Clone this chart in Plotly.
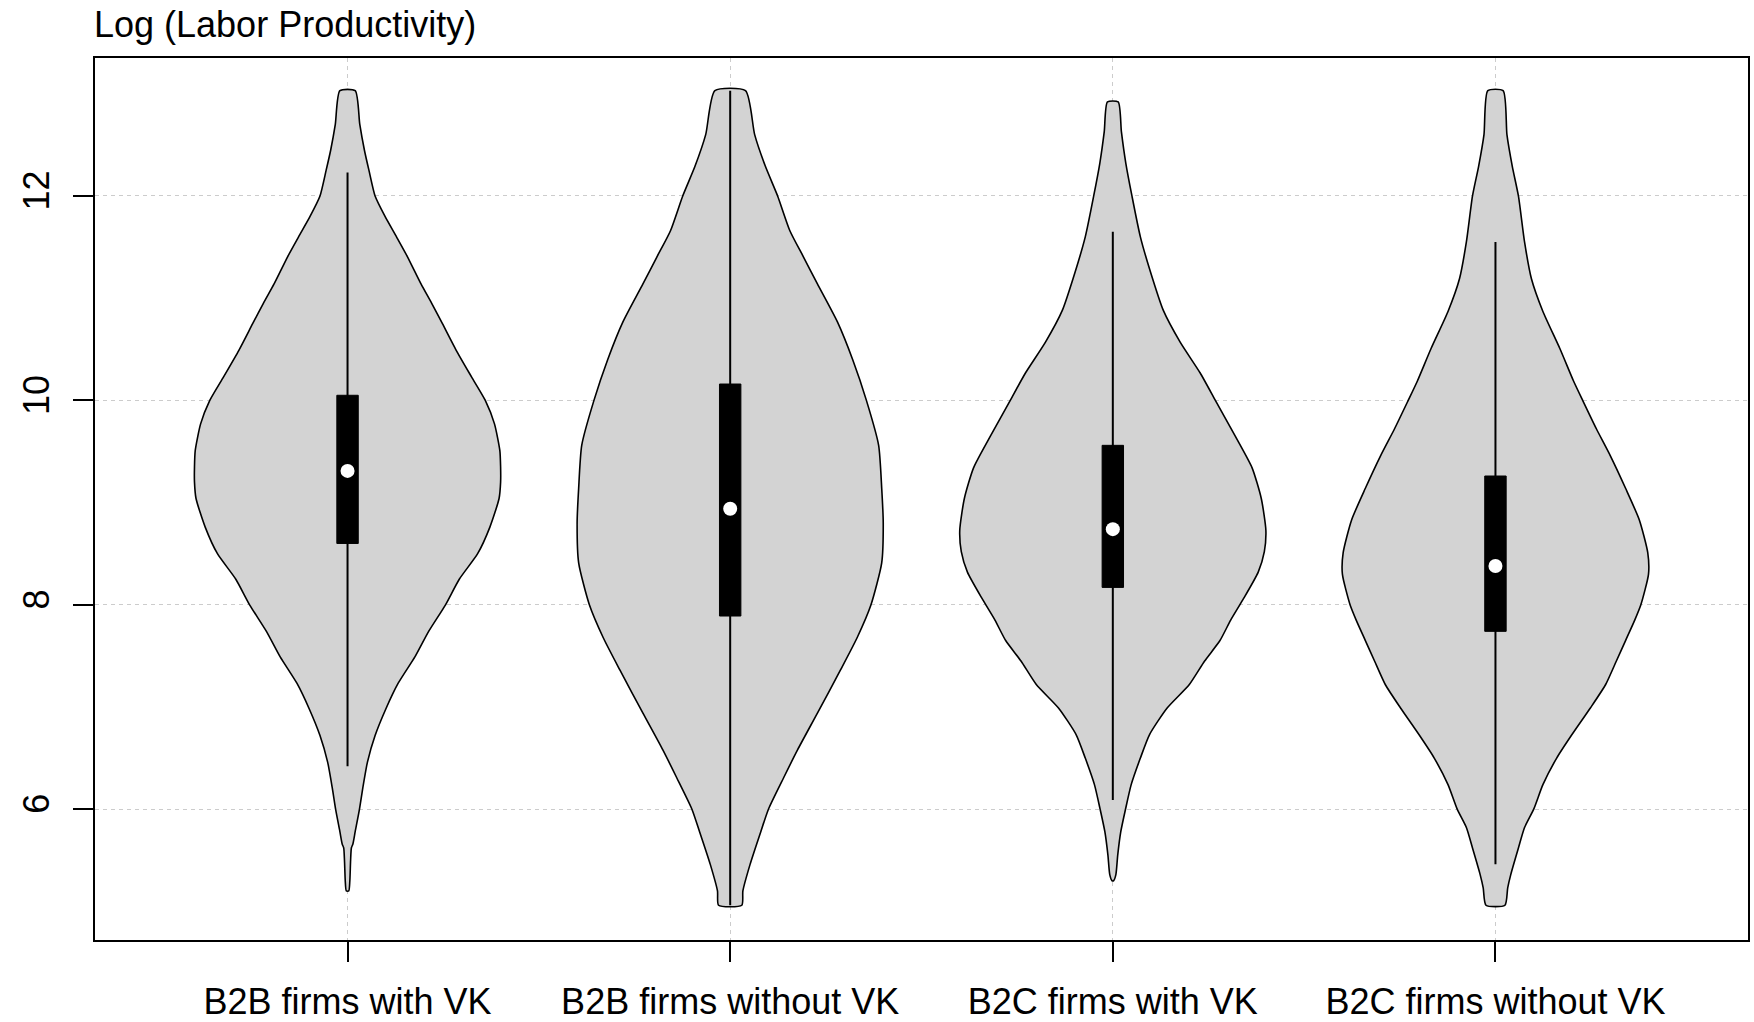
import plotly.graph_objects as go

# ---------------- data ----------------
categories = ["B2B firms with VK", "B2B firms without VK", "B2C firms with VK", "B2C firms without VK"]
positions = [1, 2, 3, 4]

# density outlines: y level and relative half-width (0..1)
dens_y_b2b_vk = [5.20, 5.30, 5.50, 5.62, 5.66, 5.78, 6.00, 6.21, 6.46, 6.72, 6.98, 7.23, 7.49, 7.74, 8.00,
                 8.25, 8.50, 8.76, 9.04, 9.20, 9.35, 9.51, 9.77, 10.00, 10.23, 10.49, 10.75, 10.95, 11.14,
                 11.41, 11.60, 11.80, 12.00, 12.25, 12.45, 12.70, 13.03]
dens_w_b2b_vk = [0.008, 0.015, 0.020, 0.025, 0.035, 0.050, 0.078, 0.10, 0.13, 0.18, 0.25, 0.33, 0.44, 0.53, 0.64,
                 0.73, 0.85, 0.93, 0.99, 1.00, 1.00, 0.995, 0.96, 0.90, 0.81, 0.71, 0.62, 0.55, 0.48,
                 0.39, 0.32, 0.245, 0.18, 0.14, 0.11, 0.08, 0.05]

dens_y_b2b_novk = [5.06, 5.20, 5.46, 5.78, 6.00, 6.31, 6.58, 6.94, 7.36, 7.68, 8.00, 8.41, 8.80, 9.14,
                   9.56, 10.00, 10.40, 10.77, 11.14, 11.40, 11.66, 12.00, 12.29, 12.60, 13.03]
dens_w_b2b_novk = [0.076, 0.083, 0.13, 0.20, 0.25, 0.35, 0.44, 0.57, 0.72, 0.83, 0.92, 0.99, 1.00, 0.99,
                   0.97, 0.89, 0.80, 0.70, 0.57, 0.48, 0.39, 0.31, 0.23, 0.16, 0.10]

dens_y_b2c_vk = [5.30, 5.36, 5.55, 5.78, 6.00, 6.24, 6.50, 6.73, 6.99, 7.22, 7.45, 7.65, 7.85, 8.05, 8.32,
                 8.52, 8.73, 9.04, 9.34, 9.65, 10.00, 10.27, 10.57, 10.88, 11.19, 11.60, 12.00, 12.32,
                 12.63, 12.92]
dens_w_b2c_vk = [0.005, 0.020, 0.032, 0.052, 0.083, 0.12, 0.18, 0.24, 0.355, 0.50, 0.60, 0.70, 0.77, 0.85, 0.95,
                 0.99, 1.00, 0.97, 0.91, 0.80, 0.67, 0.57, 0.44, 0.33, 0.26, 0.18, 0.125, 0.085,
                 0.056, 0.035]

dens_y_b2c_novk = [5.06, 5.23, 5.36, 5.62, 5.82, 6.00, 6.24, 6.50, 6.73, 6.99, 7.22, 7.45, 7.65, 7.85,
                   8.00, 8.30, 8.51, 8.83, 9.14, 9.46, 9.72, 10.00, 10.19, 10.51, 10.87, 11.19, 11.55,
                   12.00, 12.29, 12.60, 13.03]
dens_w_b2c_novk = [0.062, 0.080, 0.10, 0.15, 0.19, 0.25, 0.31, 0.40, 0.50, 0.62, 0.72, 0.79, 0.85, 0.91,
                   0.95, 1.00, 0.995, 0.94, 0.85, 0.75, 0.66, 0.57, 0.51, 0.42, 0.31, 0.235, 0.19,
                   0.15, 0.11, 0.075, 0.05]

# box-plot summary per group
q1 = [8.60, 7.89, 8.17, 7.74]
q3 = [10.05, 10.16, 9.56, 9.26]
medians = [9.31, 8.94, 8.74, 8.38]
whisker_low = [6.42, 5.06, 6.09, 5.46]
whisker_high = [12.23, 13.03, 11.65, 11.55]

y_ticks = [6, 8, 10, 12]
title_text = "Log (Labor Productivity)"

# ---------------- style ----------------
MAX_HALF = 0.4
BOX_HALF = 0.028
FILL = "#d3d3d3"
FONT = "Liberation Sans, Arial, sans-serif"
FS = 36

dens_y = [dens_y_b2b_vk, dens_y_b2b_novk, dens_y_b2c_vk, dens_y_b2c_novk]
dens_w = [dens_w_b2b_vk, dens_w_b2b_novk, dens_w_b2c_vk, dens_w_b2c_novk]

fig = go.Figure()

for i, c in enumerate(positions):
    ys = dens_y[i]
    ws = dens_w[i]
    xr = [c + w * MAX_HALF for w in ws]
    xl = [c - w * MAX_HALF for w in ws]
    px = xr + xl[::-1] + [xr[0]]
    py = ys + ys[::-1] + [ys[0]]
    fig.add_trace(go.Scatter(x=px, y=py, mode="lines", fill="toself", fillcolor=FILL,
                             line=dict(color="black", width=1.6, shape="spline", smoothing=0.6),
                             hoverinfo="skip", showlegend=False))

for i, c in enumerate(positions):
    fig.add_trace(go.Scatter(x=[c, c], y=[whisker_low[i], whisker_high[i]], mode="lines",
                             line=dict(color="black", width=2), hoverinfo="skip", showlegend=False))
    fig.add_trace(go.Scatter(x=[c - BOX_HALF, c + BOX_HALF, c + BOX_HALF, c - BOX_HALF, c - BOX_HALF],
                             y=[q1[i], q1[i], q3[i], q3[i], q1[i]], mode="lines", fill="toself",
                             fillcolor="black", line=dict(color="black", width=1),
                             hoverinfo="skip", showlegend=False))

fig.add_trace(go.Scatter(x=positions, y=medians, mode="markers",
                         marker=dict(color="white", size=14, line=dict(width=0)),
                         hoverinfo="skip", showlegend=False))

fig.add_annotation(text=title_text, xref="paper", yref="paper", x=-0.002, y=1.038,
                   xanchor="left", yanchor="middle", showarrow=False,
                   font=dict(family=FONT, size=FS, color="black"))

axis_common = dict(showline=True, mirror=True, linecolor="black", linewidth=1.5,
                   ticks="outside", ticklen=20, tickwidth=1.5, tickcolor="black",
                   showgrid=True, gridcolor="#cccccc", gridwidth=1, griddash="4px,4px",
                   zeroline=False, automargin=False,
                   tickfont=dict(family=FONT, size=FS, color="black"))

fig.update_xaxes(range=[0.34, 4.66], tickvals=positions, ticktext=categories,
                 ticklabelstandoff=9, **axis_common)
fig.update_yaxes(range=[4.72, 13.35], tickvals=y_ticks, ticktext=[str(t) for t in y_ticks],
                 tickangle=-90, ticklabelstandoff=10, **axis_common)

fig.update_layout(width=1754, height=1022, plot_bgcolor="white", paper_bgcolor="white",
                  margin=dict(l=95, r=6, t=58, b=82), showlegend=False,
                  font=dict(family=FONT, size=FS, color="black"))

fig.write_html("out.html", config={"displayModeBar": False},
               post_script="document.body.style.margin='0px';document.body.style.overflow='hidden';")
